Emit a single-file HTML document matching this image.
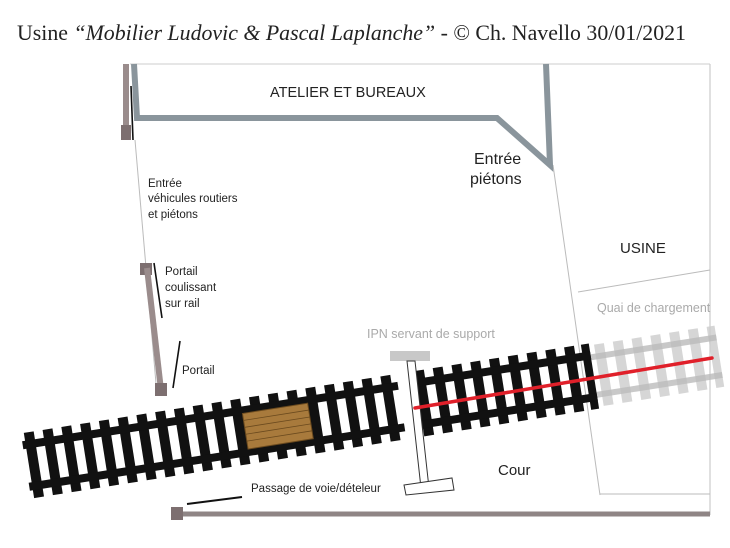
<!DOCTYPE html>
<html><head><meta charset="utf-8"><style>
html,body{margin:0;padding:0;background:#fff;}
svg{display:block;}
</style></head><body>
<svg width="730" height="548" viewBox="0 0 730 548" xmlns="http://www.w3.org/2000/svg" font-family="Liberation Sans, sans-serif">
<rect width="730" height="548" fill="#fff"/>
<text x="17" y="40" style="font-family:'Liberation Serif',serif" font-size="22" fill="#222" textLength="669" lengthAdjust="spacingAndGlyphs">Usine <tspan font-style="italic">“Mobilier Ludovic &amp; Pascal Laplanche”</tspan> - © Ch. Navello 30/01/2021</text>

<line x1="130" y1="64" x2="710" y2="64" stroke="#ccc" stroke-width="1"/>
<line x1="710" y1="64" x2="710" y2="515" stroke="#ccc" stroke-width="1.2"/>
<line x1="135" y1="140" x2="157" y2="395" stroke="#bbb" stroke-width="1"/>
<line x1="553" y1="165" x2="600" y2="495" stroke="#bbb" stroke-width="1"/>
<line x1="578" y1="292" x2="710" y2="270" stroke="#bbb" stroke-width="1"/>
<line x1="600" y1="494" x2="710" y2="494" stroke="#bbb" stroke-width="1"/>

<polyline points="134,64 137,118 497,118 550,165 546,64" fill="none" stroke="#8a959c" stroke-width="6" stroke-linejoin="miter"/>

<rect x="123" y="64" width="6" height="72" fill="#9a8c8c"/>
<rect x="121" y="125" width="10" height="15" fill="#7d6f70"/>
<line x1="131" y1="86" x2="133" y2="140" stroke="#111" stroke-width="1.6"/>
<rect x="140" y="263" width="12" height="12" fill="#7d6f70"/>
<line x1="147" y1="268" x2="161" y2="390" stroke="#9a8c8c" stroke-width="6"/>
<rect x="155" y="383" width="12" height="13" fill="#7d6f70"/>
<line x1="154" y1="263" x2="162" y2="318" stroke="#111" stroke-width="1.6"/>
<line x1="180" y1="341" x2="173" y2="388" stroke="#111" stroke-width="1.6"/>

<line x1="178" y1="514" x2="710" y2="514" stroke="#8f8585" stroke-width="5"/>
<rect x="171" y="507" width="12" height="13" fill="#7d6f70"/>
<line x1="187" y1="504" x2="242" y2="497" stroke="#111" stroke-width="2"/>

<g transform="translate(26,466) rotate(-9)">
  <g fill="#ccc" opacity="0.8">
    <rect x="580" y="-31" width="10" height="62"/><rect x="599" y="-31" width="10" height="62"/><rect x="618" y="-31" width="10" height="62"/><rect x="637" y="-31" width="10" height="62"/><rect x="656" y="-31" width="10" height="62"/><rect x="675" y="-31" width="10" height="62"/><rect x="694" y="-31" width="8" height="62"/>
  </g>
  <g fill="#bbb" opacity="0.8">
    <rect x="575" y="-22" width="127" height="6"/>
    <rect x="575" y="16" width="127" height="6"/>
  </g>
  <g fill="#111">
    <rect x="3" y="-33" width="10" height="66"/><rect x="22" y="-33" width="10" height="66"/><rect x="41" y="-33" width="10" height="66"/><rect x="60" y="-33" width="10" height="66"/><rect x="79" y="-33" width="10" height="66"/><rect x="98" y="-33" width="10" height="66"/><rect x="117" y="-33" width="10" height="66"/><rect x="136" y="-33" width="10" height="66"/><rect x="155" y="-33" width="10" height="66"/><rect x="174" y="-33" width="10" height="66"/><rect x="193" y="-33" width="10" height="66"/><rect x="212" y="-33" width="10" height="66"/><rect x="231" y="-33" width="10" height="66"/><rect x="250" y="-33" width="10" height="66"/><rect x="269" y="-33" width="10" height="66"/><rect x="288" y="-33" width="10" height="66"/><rect x="307" y="-33" width="10" height="66"/><rect x="326" y="-33" width="10" height="66"/><rect x="345" y="-33" width="10" height="66"/><rect x="364" y="-33" width="10" height="66"/><rect x="398" y="-33" width="10" height="66"/><rect x="417" y="-33" width="10" height="66"/><rect x="436" y="-33" width="10" height="66"/><rect x="455" y="-33" width="10" height="66"/><rect x="474" y="-33" width="10" height="66"/><rect x="493" y="-33" width="10" height="66"/><rect x="512" y="-33" width="10" height="66"/><rect x="531" y="-33" width="10" height="66"/><rect x="550" y="-33" width="10" height="66"/><rect x="567" y="-33" width="8" height="66"/>
  </g>
  <rect x="0" y="-25" width="575" height="8" fill="#111"/>
  <rect x="0" y="17" width="575" height="8" fill="#111"/>
  <rect x="222" y="-18" width="66" height="36" fill="#a87a3c" stroke="#6b4a1e" stroke-width="1"/>
  <g stroke="#6b4a1e" stroke-width="0.8">
    <line x1="222" y1="-11" x2="288" y2="-11"/><line x1="222" y1="-4" x2="288" y2="-4"/><line x1="222" y1="3" x2="288" y2="3"/><line x1="222" y1="10" x2="288" y2="10"/>
  </g>
  <rect x="380" y="-27" width="14" height="54" fill="#fff"/>
</g>

<rect x="390" y="351" width="40" height="10" fill="#c8c8c8"/>
<polygon points="407,361 415,361 429,488 421,488" fill="#fff" stroke="#333" stroke-width="1"/>
<polygon points="404,485 452,478 454,490 406,495" fill="#fff" stroke="#333" stroke-width="1"/>

<line x1="415" y1="408" x2="712" y2="358" stroke="#e0202a" stroke-width="3.5" stroke-linecap="round"/>

<text x="270" y="97" font-size="14.5" fill="#222">ATELIER ET BUREAUX</text>
<text x="474" y="164" font-size="16" fill="#222">Entrée</text>
<text x="470" y="184" font-size="16" fill="#222">piétons</text>
<text x="620" y="253" font-size="15" fill="#222">USINE</text>
<text x="148" y="187" font-size="11.5" fill="#222">Entrée</text>
<text x="148" y="202" font-size="11.5" fill="#222">véhicules routiers</text>
<text x="148" y="218" font-size="11.5" fill="#222">et piétons</text>
<text x="165" y="275" font-size="11.5" fill="#222">Portail</text>
<text x="165" y="291" font-size="11.5" fill="#222">coulissant</text>
<text x="165" y="307" font-size="11.5" fill="#222">sur rail</text>
<text x="182" y="374" font-size="11.5" fill="#222">Portail</text>
<text x="367" y="338" font-size="12.5" fill="#aaa">IPN servant de support</text>
<text x="597" y="312" font-size="12.5" fill="#aaa">Quai de chargement</text>
<text x="498" y="475" font-size="15" fill="#222">Cour</text>
<text x="251" y="492" font-size="11.5" fill="#222">Passage de voie/dételeur</text>
</svg>
</body></html>
